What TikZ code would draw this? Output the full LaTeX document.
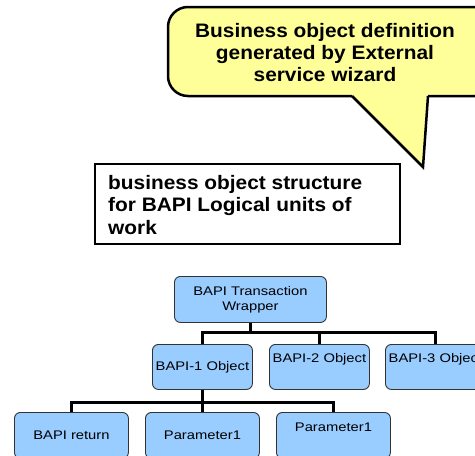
\documentclass[tikz,border=0pt]{standalone}
\usepackage{fontspec}
\setmainfont{Liberation Sans}
\newfontfamily\calloutfont[FakeStretch=1.07]{Liberation Sans}
\newfontfamily\boxfont[FakeStretch=1.18]{Liberation Sans}
\definecolor{bapiblue}{HTML}{99CCFF}
\definecolor{callyellow}{HTML}{FFFF99}
\definecolor{bapiedge}{HTML}{333333}
\begin{document}
\begin{tikzpicture}[x=1pt,y=-1pt,
  bapi/.style={draw=bapiedge, fill=bapiblue, rounded corners=6pt, line width=0.9pt,
    minimum width=100pt, minimum height=45pt, inner sep=0pt, anchor=north west,
    align=center, font=\boxfont\fontsize{12.5}{15}\selectfont},
  raised/.style={text depth=17pt},
  conn/.style={line width=3pt, line join=miter},
  bigtext/.style={font=\calloutfont\bfseries\fontsize{19.5}{22}\selectfont, inner sep=0pt}]
\useasboundingbox (0,0) rectangle (475,456);
\clip (0,0) rectangle (475,456);

% callout
\fill[callyellow, rounded corners=20pt] (168,7) rectangle (495,96);
\fill[callyellow] (352,95) -- (423,167) -- (428,95) -- cycle;
\draw[line width=2.5pt, rounded corners=20pt] (352,96) -- (168,96) -- (168,7) -- (495,7) -- (495,96) -- (428,96);
\draw[line width=2.5pt, line join=miter] (352,96) -- (423,167) -- (428,96);
\node[bigtext, align=center, anchor=north] (calltext) at (325,23)
  {Business object definition\\generated by External\\service wizard};

% structure box
\draw[line width=1.2pt, fill=white] (95,164) rectangle (400,244);
\node[bigtext, align=left, anchor=north west, font=\calloutfont\bfseries\fontsize{19.5}{22.5}\selectfont] (structtext) at (108,175)
  {business object structure\\for BAPI Logical units of\\work};

% tree
\node[bapi, minimum width=152pt, minimum height=46pt] (root) at (174,276) {BAPI Transaction\\Wrapper};
\node[bapi] (b1) at (152,344) {BAPI-1 Object};
\node[bapi, raised] (b2) at (269,344) {BAPI-2 Object};
\node[bapi, raised] (b3) at (385,344) {BAPI-3 Object};
\node[bapi, minimum width=114pt, minimum height=46pt] (r1) at (14,412) {BAPI return};
\node[bapi, minimum width=114pt, minimum height=46pt] (p1) at (145,412) {Parameter1};
\node[bapi, raised, minimum width=114pt, minimum height=46pt] (p2) at (276,412) {Parameter1};

\path (root.south) ++(0,10) coordinate (j1);
\draw[conn] (root.south) -- (j1);
\draw[conn] (j1) -| (b1.north);
\draw[conn] (j1) -| (b2.north);
\draw[conn] (j1) -| (b3.north);

\path (b1.south) ++(0,13) coordinate (j2);
\draw[conn] (b1.south) -- (j2);
\draw[conn] (j2) -| (r1.north);
\draw[conn] (j2) -| (p1.north);
\draw[conn] (j2) -| (p2.north);
\end{tikzpicture}
\end{document}
